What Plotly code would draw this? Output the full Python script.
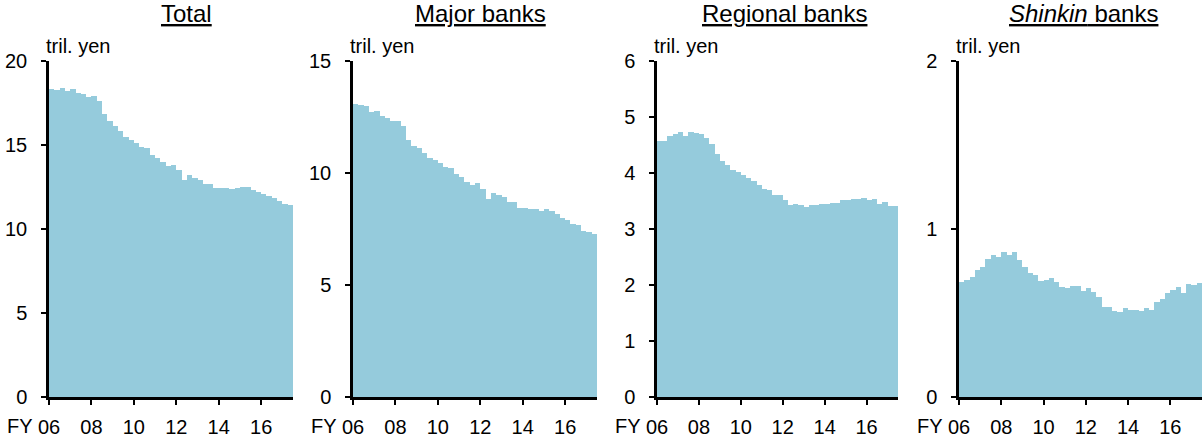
import plotly.graph_objects as go

# Quarterly series, FY2006 Q1 .. FY2017 Q2 (trillion yen)
fiscal_start = 2006
quarters = 46

total = [18.33, 18.27, 18.39, 18.19, 18.31, 18.07, 18.03, 17.87, 17.91, 17.59,
         16.86, 16.40, 16.12, 15.82, 15.46, 15.28, 15.10, 14.91, 14.81, 14.43,
         14.23, 14.01, 13.75, 13.83, 13.53, 12.94, 13.19, 13.03, 12.91, 12.68,
         12.66, 12.46, 12.42, 12.42, 12.40, 12.42, 12.48, 12.48, 12.32, 12.18,
         12.08, 11.98, 11.82, 11.64, 11.46, 11.40]

major = [13.07, 13.03, 13.01, 12.73, 12.77, 12.56, 12.45, 12.30, 12.34, 12.10,
         11.47, 11.20, 11.10, 10.90, 10.67, 10.58, 10.46, 10.27, 10.22, 9.96,
         9.82, 9.61, 9.45, 9.54, 9.30, 8.86, 9.11, 9.02, 8.93, 8.72,
         8.71, 8.46, 8.44, 8.41, 8.38, 8.32, 8.41, 8.31, 8.18, 7.98,
         7.89, 7.74, 7.69, 7.43, 7.36, 7.27]

regional = [4.57, 4.57, 4.66, 4.70, 4.73, 4.66, 4.73, 4.71, 4.69, 4.63,
            4.52, 4.34, 4.21, 4.15, 4.05, 4.01, 3.97, 3.91, 3.86, 3.79,
            3.71, 3.69, 3.61, 3.61, 3.52, 3.42, 3.45, 3.43, 3.39, 3.42,
            3.42, 3.45, 3.44, 3.46, 3.46, 3.52, 3.52, 3.54, 3.54, 3.56,
            3.52, 3.54, 3.45, 3.49, 3.41, 3.41]

shinkin = [0.683, 0.694, 0.714, 0.754, 0.774, 0.819, 0.845, 0.835, 0.861, 0.845,
           0.861, 0.813, 0.774, 0.738, 0.724, 0.692, 0.696, 0.706, 0.686, 0.655,
           0.651, 0.659, 0.659, 0.631, 0.647, 0.625, 0.593, 0.534, 0.538, 0.512,
           0.506, 0.528, 0.518, 0.516, 0.512, 0.530, 0.518, 0.567, 0.581, 0.617,
           0.635, 0.657, 0.617, 0.675, 0.667, 0.681]

panel_titles = ["<u>Total</u>", "<u>Major banks</u>", "<u>Regional banks</u>",
                "<u><i>Shinkin</i> banks</u>"]
y_ranges = [20, 15, 6, 2]
y_dticks = [5, 5, 1, 1]
tick_years = [2006, 2008, 2010, 2012, 2014, 2016]
tick_text = ["06", "08", "10", "12", "14", "16"]
unit_label = "tril. yen"

W, H = 1203, 439
FONT = "Liberation Sans, Arial, sans-serif"
BAR_COLOR = "#95CBDC"
LABEL_SIZE = 20

# pixel layout of each panel's plot area
x_px = [(49, 293), (353, 597), (657, 898), (959, 1202)]
title_px = [186, 480, 784, 1083]
y_top, y_bot = 61, 397

x_centers = [fiscal_start + 0.125 + 0.25 * i for i in range(quarters)]

fig = go.Figure()
series = [total, major, regional, shinkin]
annotations = []
for k, vals in enumerate(series):
    xa = "x" if k == 0 else f"x{k + 1}"
    ya = "y" if k == 0 else f"y{k + 1}"
    fig.add_trace(go.Bar(x=x_centers, y=vals, width=0.25, xaxis=xa, yaxis=ya,
                         marker=dict(color=BAR_COLOR, line=dict(width=0)),
                         showlegend=False, hoverinfo="x+y"))
    axis_common = dict(showline=True, linecolor="black", linewidth=2.5,
                       ticks="outside", ticklen=5, tickwidth=2, tickcolor="black",
                       showgrid=False, zeroline=False, automargin=False,
                       tickfont=dict(family=FONT, size=LABEL_SIZE, color="black"))
    xkey = "xaxis" if k == 0 else f"xaxis{k + 1}"
    ykey = "yaxis" if k == 0 else f"yaxis{k + 1}"
    fig.layout[xkey] = dict(axis_common, domain=[x_px[k][0] / W, x_px[k][1] / W],
                            range=[fiscal_start, fiscal_start + quarters * 0.25],
                            tickvals=tick_years, ticktext=tick_text,
                            anchor=ya, ticklabelstandoff=5)
    fig.layout[ykey] = dict(axis_common, domain=[1 - y_bot / H, 1 - y_top / H],
                            range=[0, y_ranges[k]], dtick=y_dticks[k], tick0=0,
                            anchor=xa, ticklabelstandoff=10)
    annotations.append(dict(text=panel_titles[k], xref="paper", yref="paper",
                            x=title_px[k] / W, y=1 - 14 / H, xanchor="center",
                            yanchor="middle", showarrow=False,
                            font=dict(family=FONT, size=24, color="black")))
    annotations.append(dict(text=unit_label, xref="paper", yref="paper",
                            x=(x_px[k][0] - 5) / W, y=1 - 46 / H, xanchor="left",
                            yanchor="middle", showarrow=False,
                            font=dict(family=FONT, size=LABEL_SIZE, color="black")))
    annotations.append(dict(text="FY", xref="paper", yref="paper",
                            x=(x_px[k][0] - 44) / W, y=1 - 426 / H, xanchor="left",
                            yanchor="middle", showarrow=False,
                            font=dict(family=FONT, size=LABEL_SIZE, color="black")))

fig.update_layout(width=W, height=H, margin=dict(l=0, r=0, t=0, b=0),
                  paper_bgcolor="white", plot_bgcolor="white", bargap=0,
                  annotations=annotations, font=dict(family=FONT))
fig.write_html("out.html")
